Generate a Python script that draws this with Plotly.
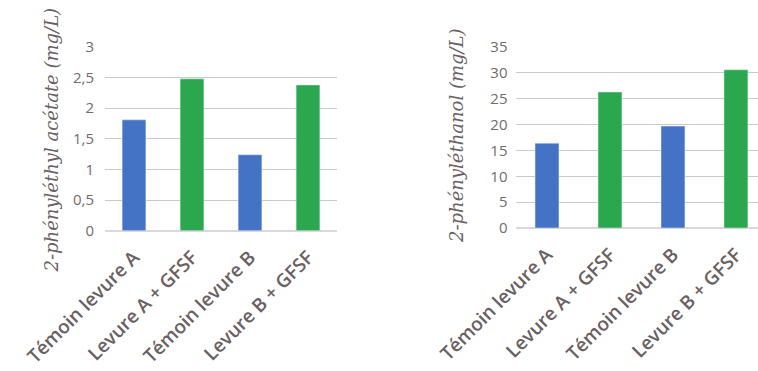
import plotly.graph_objects as go
from plotly.subplots import make_subplots

categories = ["Témoin levure A", "Levure A + GFSF", "Témoin levure B", "Levure B + GFSF"]
acetate_values = [1.81, 2.48, 1.24, 2.38]
ethanol_values = [16.4, 26.3, 19.7, 30.6]
bar_colors = ["#4472C4", "#2BA84F", "#4472C4", "#2BA84F"]
acetate_ticks = [0, 0.5, 1, 1.5, 2, 2.5, 3]
ethanol_ticks = [0, 5, 10, 15, 20, 25, 30, 35]

W, H = 758, 371
text_col = "#6B5F63"
grid_col = "#C9C9C9"

fig = make_subplots(rows=1, cols=2)

fig.add_trace(go.Bar(x=categories, y=acetate_values, marker_color=bar_colors,
                     width=0.41, showlegend=False), row=1, col=1)
fig.add_trace(go.Bar(x=categories, y=ethanol_values, marker_color=bar_colors,
                     width=0.38, showlegend=False), row=1, col=2)

tick_font = dict(family="Open Sans", size=15, color="#736A6D")
cat_font = dict(family="Open Sans", size=19, color=text_col, weight=600)

fig.update_layout(
    width=W, height=H,
    margin=dict(l=0, r=0, t=0, b=0, autoexpand=False),
    paper_bgcolor="white", plot_bgcolor="white",
    separators=", ",
    xaxis=dict(domain=[105 / W, 337 / W], range=[-0.5, 3.5], tickangle=-45,
               tickfont=cat_font, showgrid=False, showline=False, ticks="",
               ticklabelstandoff=11, automargin=False),
    xaxis2=dict(domain=[515.5 / W, 1.0], range=[-0.5, 3.35], tickangle=-45,
                tickfont=cat_font, showgrid=False, showline=False, ticks="",
                ticklabelstandoff=11, automargin=False),
    yaxis=dict(domain=[1 - 230.7 / H, 1 - 47 / H], range=[0, 3],
               tickvals=acetate_ticks, tickfont=tick_font, gridcolor=grid_col,
               gridwidth=1, zeroline=True, zerolinecolor="#D9D9D9", zerolinewidth=2,
               ticks="", ticklabelstandoff=10, automargin=False),
    yaxis2=dict(domain=[1 - 228 / H, 1 - 47 / H], range=[0, 35],
                tickvals=ethanol_ticks, tickfont=tick_font, gridcolor=grid_col,
                gridwidth=1, zeroline=True, zerolinecolor="#D9D9D9", zerolinewidth=2,
                ticks="", ticklabelstandoff=7, automargin=False),
)

title_font = dict(family="DejaVu Serif", size=18, color=text_col, style="italic")
fig.add_annotation(text="2-phényléthyl acétate (mg/L)", textangle=-90,
                   x=38 / W, y=1 - 140 / H, xref="paper", yref="paper",
                   showarrow=False, font=title_font)
fig.add_annotation(text="2-phényléthanol (mg/L)", textangle=-90,
                   x=457 / W, y=1 - 136 / H, xref="paper", yref="paper",
                   showarrow=False, font=title_font)

fig.write_html("out.html")
